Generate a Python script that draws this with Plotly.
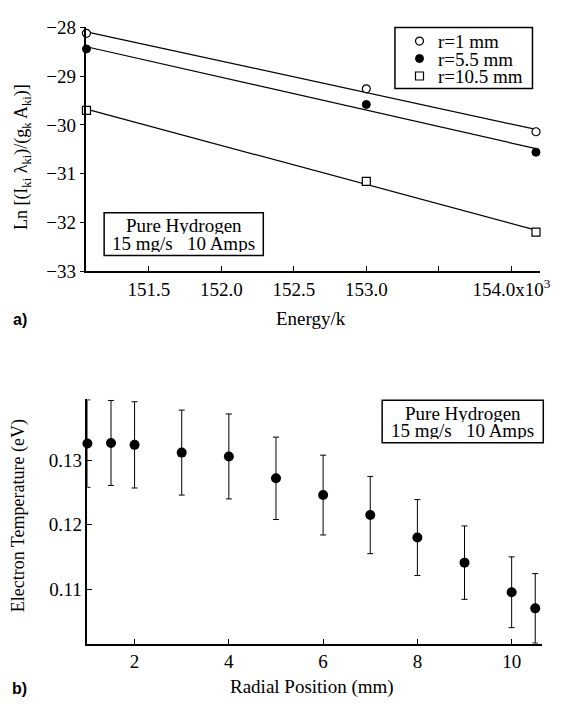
import numpy as np
import plotly.graph_objects as go

# ---- Panel a) data ----
energy_k = [151.07, 153.0, 154.17]          # x10^3
ln_r1 = [-28.12, -29.26, -30.14]
ln_r55 = [-28.44, -29.58, -30.56]
ln_r105 = [-29.70, -31.16, -32.20]
series_names = ["r=1 mm", "r=5.5 mm", "r=10.5 mm"]
a_xticks = [151.5, 152.0, 152.5, 153.0, 154.0]
a_xticktext = ["151.5", "152.0", "152.5", "153.0", "154.0x10<sup>3</sup>"]
a_minor = [153.5]
a_yticks = [-33, -32, -31, -30, -29, -28]

# ---- Panel b) data ----
radial_pos = [1, 1.5, 2, 3, 4, 5, 6, 7, 8, 9, 10, 10.5]
te = [0.1326, 0.1327, 0.1324, 0.1312, 0.1306, 0.1272, 0.1246, 0.1215, 0.1180, 0.1141, 0.1095, 0.1070]
te_err = [0.0068, 0.0066, 0.0067, 0.0066, 0.0066, 0.0064, 0.0062, 0.0060, 0.0059, 0.0057, 0.0055, 0.0054]
b_xticks = [2, 4, 6, 8, 10]
b_yticks = [0.11, 0.12, 0.13]

info_lines = ["Pure Hydrogen", "15 mg/s&nbsp;&nbsp;&nbsp;10 Amps"]

SERIF = "Liberation Serif"
SANS = "Liberation Sans"
W, H = 569, 712
fig = go.Figure()

styles = [
    dict(symbol="circle", color="white", line=dict(color="black", width=1.2), size=8),
    dict(symbol="circle", color="black", line=dict(color="black", width=1), size=8),
    dict(symbol="square", color="white", line=dict(color="black", width=1.2), size=8),
]
x_arr = np.array(energy_k)
for name, ys, st in zip(series_names, [ln_r1, ln_r55, ln_r105], styles):
    k, b = np.polyfit(x_arr, np.array(ys), 1)
    fig.add_trace(go.Scatter(x=[x_arr[0], x_arr[-1]], y=[k * x_arr[0] + b, k * x_arr[-1] + b],
                             mode="lines", line=dict(color="black", width=1.2),
                             showlegend=False, xaxis="x", yaxis="y", hoverinfo="skip"))
    fig.add_trace(go.Scatter(x=energy_k, y=ys, mode="markers", name=name, marker=st,
                             showlegend=False, xaxis="x", yaxis="y", cliponaxis=False))

fig.add_trace(go.Scatter(x=radial_pos, y=te, mode="markers", showlegend=False,
                         marker=dict(symbol="circle", color="black", size=10),
                         error_y=dict(type="data", array=te_err, color="black", thickness=1, width=3),
                         xaxis="x2", yaxis="y2", cliponaxis=False))


def rect(x0, y0, x1, y1):
    fig.add_shape(type="rect", xref="paper", yref="paper",
                  x0=x0 / W, x1=x1 / W, y0=1 - y1 / H, y1=1 - y0 / H,
                  line=dict(color="black", width=1.5), fillcolor="white", layer="below")


def add_text(x, y, text, size, family=SERIF, angle=0, xanchor="center", **kw):
    fig.add_annotation(x=x / W, y=1 - y / H, xref="paper", yref="paper", text=text,
                       xanchor=xanchor, yanchor="middle", textangle=angle, showarrow=False,
                       font=dict(family=family, size=size, color="black"), **kw)


# ---- custom legend (layout in pixel space on an invisible overlay axis) ----
leg_sym_x, leg_text_x = 427, 444
leg_rows = [32, 50, 68]
rect(402, 18, 542, 81)
for st, row in zip(styles, leg_rows):
    fig.add_trace(go.Scatter(x=[leg_sym_x], y=[row], mode="markers", marker=st,
                             showlegend=False, xaxis="x3", yaxis="y3", hoverinfo="skip",
                             cliponaxis=False))
for name, row in zip(series_names, leg_rows):
    add_text(leg_text_x, row, name, 19, xanchor="left", height=18, valign="middle")

# ---- info boxes ----
rect(106, 209, 268, 253)
add_text(187, 222, info_lines[0], 19, height=18, valign="middle")
add_text(187, 240, info_lines[1], 19, height=18, valign="middle")
rect(389, 402, 553, 446)
add_text(471, 415, info_lines[0], 19, height=18, valign="middle")
add_text(471, 433, info_lines[1], 19, height=18, valign="middle")

axis_common = dict(showgrid=False, zeroline=False, showline=True, linecolor="black", linewidth=1.5,
                   ticks="inside", ticklen=5, tickcolor="black",
                   tickfont=dict(family=SERIF, size=19, color="black"))

fig.update_layout(
    width=W, height=H, margin=dict(l=0, r=0, t=0, b=0),
    paper_bgcolor="white", plot_bgcolor="rgba(0,0,0,0)",
    font=dict(family=SERIF, color="black"),
    xaxis=dict(axis_common, domain=[88 / W, 550 / W], range=[151.07, 154.2],
               tickvals=a_xticks, ticktext=a_xticktext, anchor="y",
               minor=dict(tickvals=a_minor, ticks="inside", ticklen=5, tickcolor="black", showgrid=False)),
    yaxis=dict(axis_common, domain=[1 - 269 / H, 1 - 18 / H], range=[-33, -28],
               tickvals=a_yticks, ticks="outside", anchor="x"),
    xaxis2=dict(axis_common, domain=[89 / W, 552 / W], range=[1, 10.65],
                tickvals=b_xticks, anchor="y2"),
    yaxis2=dict(axis_common, domain=[1 - 653 / H, 1 - 401 / H], range=[0.1015, 0.1395],
                tickvals=b_yticks, tickformat=".2f", anchor="x2"),
    xaxis3=dict(domain=[0, 1], range=[0, W], visible=False, anchor="y3"),
    yaxis3=dict(domain=[0, 1], range=[H, 0], visible=False, anchor="x3"),
    showlegend=False,
)

# axis titles and panel labels
add_text(23, 152, "Ln [(I<sub>ki</sub> λ<sub>ki</sub>)/(g<sub>k</sub> A<sub>ki</sub>)]", 18, angle=-90)
add_text(19, 521, "Electron Temperature (eV)", 18, angle=-90)
add_text(317, 318, "Energy/k", 19)
add_text(318, 698, "Radial Position (mm)", 19)
add_text(20, 319, "<b>a)</b>", 16, family=SANS)
add_text(20, 699, "<b>b)</b>", 16, family=SANS)

fig.write_html("out.html", config={"displayModeBar": False},
               post_script="document.body.style.margin='0';document.body.style.overflow='hidden';")
